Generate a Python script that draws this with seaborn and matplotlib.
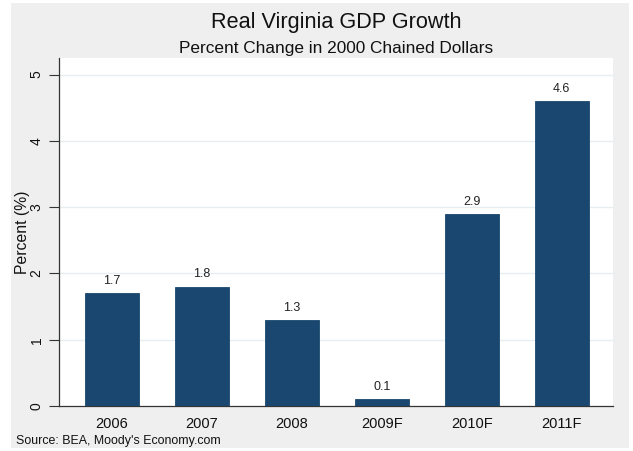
import matplotlib
matplotlib.use("Agg")
import matplotlib.pyplot as plt
import matplotlib.patches as mpatches
import seaborn as sns
import pandas as pd

years = ["2006", "2007", "2008", "2009F", "2010F", "2011F"]
growth = [1.7, 1.8, 1.3, 0.1, 2.9, 4.6]
y_ticks = [0, 1, 2, 3, 4, 5]

bar_color = "#1a476f"
panel_gray = "#efefef"
grid_color = "#e6eef0"
text_color = "#111111"

sns.set_theme(style="white")
plt.rcParams["font.family"] = ["Liberation Sans", "DejaVu Sans"]

df = pd.DataFrame({"year": years, "growth": growth})

W, H = 633, 451
fig = plt.figure(figsize=(W / 100, H / 100), dpi=100, facecolor="white")

# light gray graph region behind the white plot area
fig.patches.append(mpatches.Rectangle((11 / W, 1 - 448 / H), (629 - 11) / W, (448 - 3) / H,
                                      transform=fig.transFigure, facecolor=panel_gray,
                                      edgecolor="none", zorder=-10))

ax = fig.add_axes([59 / W, 1 - 406 / H, (613 - 59) / W, (406 - 58) / H])
ax.set_facecolor("white")

sns.barplot(data=df, x="year", y="growth", color=bar_color, width=0.6,
            saturation=1, edgecolor=bar_color, linewidth=0.6, ax=ax, zorder=3)

ax.bar_label(ax.containers[0], fmt="%.1f", padding=4.5, fontsize=9, color="#222222")

ax.set_xlim(-0.59, 5.57)
ax.set_ylim(0, 5.25)
ax.set_yticks(y_ticks)
for t in y_ticks[1:]:
    ax.axhline(t, color=grid_color, linewidth=1.0, zorder=1)

ax.tick_params(axis="y", which="both", left=True, length=7, width=0.8, color="#333333",
               labelsize=10, pad=4, labelcolor=text_color)
ax.tick_params(axis="x", bottom=False, length=0, labelsize=10.5, pad=8,
               labelcolor=text_color)
for lbl in ax.get_yticklabels():
    lbl.set_rotation(90)
    lbl.set_va("center")

sns.despine(ax=ax, top=True, right=True)
for side in ("left", "bottom"):
    ax.spines[side].set_color("#333333")
    ax.spines[side].set_linewidth(0.9)

ax.set_xlabel("")
ax.set_ylabel("Percent (%)", fontsize=11.3, color=text_color)
ax.yaxis.label.set_va("center")
ax.yaxis.set_label_coords((23 - 59) / (613 - 59), 0.5)

cx = ((59 + 613) / 2) / W
fig.text(cx, 1 - 28 / H, "Real Virginia GDP Growth", ha="center", va="baseline",
         fontsize=15.6, color=text_color)
fig.text(cx, 1 - 53 / H, "Percent Change in 2000 Chained Dollars", ha="center",
         va="baseline", fontsize=12.4, color=text_color)
fig.text(16 / W, 1 - 444 / H, "Source: BEA, Moody's Economy.com", ha="left",
         va="baseline", fontsize=8.9, color=text_color)

fig.savefig("out.png", dpi=100, facecolor="white")
